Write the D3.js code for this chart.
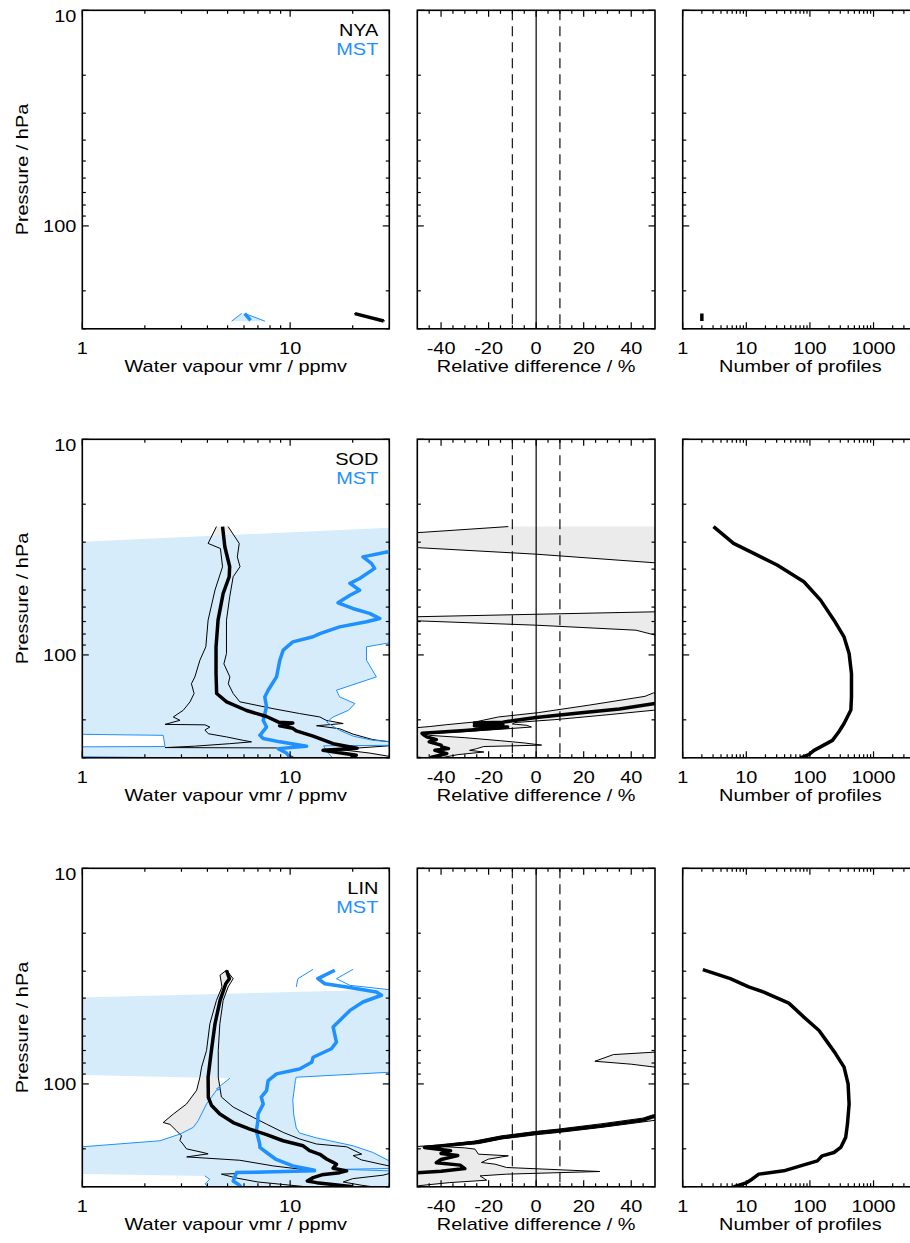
<!DOCTYPE html>
<html>
<head>
<meta charset="utf-8">
<script src="https://cdn.jsdelivr.net/npm/d3@7"></script>
<style>
body { margin: 0; background: #fff; }
svg text { font-family: "Liberation Sans", Arial, Helvetica, sans-serif; }
</style>
</head>
<body>
<div id="chart"></div>
<script>
// ---- data: each point is [pressure hPa, value] ----
var stations = ["NYA", "SOD", "LIN"];

// NYA
var nyaMean = [[255, 20.5], [276, 28.2]];
var nyaLo = [[255, 20.3], [276, 27.8]];
var nyaHi = [[255, 20.7], [276, 28.6]];
var nyaMstMean = [[255, 6.05], [274, 6.45]];
var nyaMstLo = [[254.7, 5.84], [276.5, 5.23]];
var nyaMstHi = [[254.7, 6.05], [276.5, 7.56]];
var nyaDiffMean = [[255, -70.5], [276, -77.1]];
var nyaDiffLo = [[255, -72], [276, -79]];
var nyaDiffHi = [[255, -69], [276, -75]];
var nyaCount = [[255, 2], [276, 2]];

// SOD
var sodMean = [[25.4,4.73],[31.5,4.85],[39,5.12],[43.4,5.09],[51.9,4.76],[69,4.5],[91.7,4.4],[122,4.4],[151,4.43],[165,4.95],[181,6.17],[193,7.7],[205,8.8],[207,10.3],[213,8.9],[219,10.3],[225,10.7],[238,12.9],[258,16.1],[269,20.1],[271,21],[277,14.4],[292,20.8],[300,19.6]];
var sodLo = [[25.4,4.42],[30.4,4.03],[32.1,4.62],[39,4.73],[50,4.35],[69,4.03],[91.7,3.93],[105.8,3.68],[126.5,3.48],[136,3.35],[151,3.45],[165,3.3],[180.6,3.06],[194,2.74],[201,2.95],[210,2.5],[211,3.89],[216,4.11],[223,3.89],[232,4.04],[240,4.94],[249,5.95],[253,6.52],[258,5.12],[265,3.47],[269,2.5],[270,8.6],[285,9.5],[300,10.5]];
var sodHi = [[25.4,5.03],[30.4,5.69],[35.1,5.57],[39,5.74],[43.4,5.32],[53.8,5.12],[69,4.94],[98.5,4.94],[110,4.8],[126.5,5.13],[136,5.04],[151,5.32],[165,5.73],[177.5,8.28],[187,11.1],[194,13.9],[201,14.9],[208,18],[213,13.4],[220,17.3],[233,20.1],[247,25],[252,29],[256,36],[262,33],[268,24],[274,17],[285,24],[300,33]];
var sodMstMean = [[33.2,29.6],[35.1,22.4],[37.6,24.6],[39.7,25.5],[44.2,21.6],[46.6,19.4],[50.1,21.6],[52.9,19.4],[57.3,17],[60.9,20],[64.2,24.1],[67.8,27],[70.2,23.3],[74.1,17.3],[79.6,13.9],[82.4,12.9],[87,10.3],[95,9.26],[105.8,8.92],[126.5,8.6],[145.8,7.84],[156.6,7.55],[174,7.7],[201,7.42],[216,7.7],[236,7.15],[244,7.42],[253,8.92],[265,12],[272,8.76],[285,9.6],[300,9.99]];
var sodMstLo = [[31.5,0.3],[230,0.3],[236,2.45],[266,2.5],[268,0.3],[293,0.3],[300,3.0]];
var sodMstHi = [[25.4,40],[87,40],[87.9,30],[91.7,23.3],[105.8,23.3],[126.5,26],[131,23.3],[145.8,16.7],[156.6,17.3],[168,20.5],[180.6,19.1],[194,16.1],[204.6,15],[212,15.8],[223.7,17.3],[238,20.1],[249,25],[252,30],[258,40],[262,40],[264,14.5],[280,15],[300,16]];
var sodDiffMean = [[25.4,150],[160,120],[168,50],[178,35],[186,18],[195,0],[202,-10],[205,-14],[207,-26],[210,-14],[213,-26],[216,-12],[224,-30],[231,-48],[236,-47],[240,-46],[247,-42],[253,-45],[262,-40],[267,-39.7],[272,-36.9],[277,-42.6],[287,-37.6],[298,-44],[300,-44]];
var sodDiffLo = [[25.4,-11.7],[27.1,-50],[29.5,-150],[31.8,-50],[34.1,0],[37.4,50],[40,120],[60,120],[63.1,50],[66.5,-50],[68,-150],[69.5,-50],[72.8,0],[76.8,42],[80.9,50],[85,120],[145,120],[150.1,49.3],[155.6,45.8],[171.2,21.9],[185.2,0.9],[194,-15.9],[204.6,-25.7],[210.6,-37.6],[215,-45],[222,-60],[280,-70],[300,-47]];
var sodDiffHi = [[25.4,150],[175,150],[180.6,49.3],[190.6,27.6],[199.6,7.9],[202.5,0],[205.9,-8.9],[209,-10],[212,-4],[216,-2],[220,-12],[226,-28],[232,-46],[236,-45],[242,-30],[250,-15],[256,-5],[262,2.3],[266,-22],[272,-25],[277,-28],[282,-22],[290,-33],[300,-40]];
var sodCount = [[25.4,3.05],[30.4,6.3],[33.8,13.1],[38.3,30.5],[45.8,80.4],[55.7,147],[69,239],[82.5,344],[98.5,413],[122,450],[156.6,450],[180,440],[208,344],[227,285],[249,226],[267,147],[277,116],[290,96],[300,71]];

// LIN
var linMean = [[29.7,4.94],[32.5,5.1],[34.3,4.9],[41,4.6],[52.6,4.35],[70,4.18],[93,4.03],[115.4,4.04],[126,4.19],[138,4.59],[151,5.32],[162,6.4],[172,7.7],[183.5,9.25],[193.6,11.55],[204,12.4],[212,13.9],[223,14.96],[231,16.1],[236,16.7],[246,16.1],[253,18.7],[258,17.3],[264,14.2],[272,12.9],[282,12.1],[287,13.4],[300,20.1]];
var linLo = [[29.7,4.94],[31.3,4.6],[35.5,4.7],[41,4.42],[52.6,4.11],[70,3.96],[83.6,3.75],[93.1,3.68],[107,3.55],[124,3.17],[138,2.74],[151,2.45],[154,2.64],[165,2.84],[174,3.0],[183,2.95],[190,3.05],[200,3.17],[208,3.81],[211,4.03],[218,3.18],[226,5.73],[240,8.28],[253,13.1],[262,4.67],[273,5.5],[285,7],[300,12]];
var linHi = [[29.7,4.94],[32.5,5.32],[35.5,5.03],[41,4.76],[52.6,4.59],[70,4.51],[93,4.51],[115,4.67],[128,5.32],[143,6.64],[153.6,7.7],[167.8,9.26],[180,11.1],[190,13.4],[195.7,18.7],[211.7,22.1],[215,20.1],[225,22],[235,27],[245,33],[250,35],[265,28],[275,20],[285,18],[295,22],[300,25]];
var linMstMean = [[29.7,16.4],[32.5,13.6],[34.3,14.7],[35.5,18.7],[37.5,26],[38.8,27.5],[41.7,22.4],[45.6,19.4],[54.5,16.1],[64,16.7],[68.7,15.8],[75.2,12.9],[79.3,12.7],[85.2,11.1],[89.8,8.6],[96.5,7.84],[107.4,7.7],[115,7.26],[124,7.42],[138,7.0],[148,7.0],[165,6.88],[190,7.14],[197,7.15],[208,7.7],[223,8.5],[240,10.3],[251.5,13.1],[253,13.1],[257.8,5.52],[272,5.4],[282,5.32],[296,5.73],[300,5.8]];
// values of 0.2 mark levels with no valid lower bound (fill edge only, no line)
var linMstLo = [[29.4,12.9],[32.5,10.9],[35.5,10.7],[41.3,0.2],[88,0.2],[94.1,5.13],[105.4,4.42],[106,4.6],[107,4.42],[123.9,3.96],[148,3.61],[159,3.42],[170.9,2.95],[183.5,2.36],[195.7,1.0],[200,0.5],[255,0.2],[267,3.89],[277,4.1],[290,3.9],[300,4.0]];
var linMstHi = [[29.4,20.1],[32.5,16.7],[34.9,19.4],[36.5,29.6],[37.5,50],[87,50],[88.3,30],[93.1,10.7],[96.5,10.6],[118.9,10.3],[138,10.4],[160,10.7],[169,11.1],[178,13.4],[183.5,15.5],[193.6,20.1],[207.9,25],[226,29.6],[232,40],[245,40],[249,18],[253,30],[257,50],[300,50]];
var linDiffMean = [[29.7,200],[130,200],[138,70],[141.9,49.3],[147,45],[156.3,27.6],[164.9,9.3],[169,0],[174,-8.9],[177.1,-14.5],[186.8,-25.7],[197,-47],[204,-36],[210,-40],[215,-33],[224,-40],[232,-42],[238,-32],[247,-30],[254,-40],[258,-50],[264,-60],[300,-65]];
var linDiffLo = [[29.7,150],[69,150],[71.2,50],[73.1,32.5],[78.5,24.7],[81,40],[83.6,50],[86,150],[133,150],[136,55],[138.9,49.3],[144,45],[153,27.6],[162,9.3],[166,0],[171,-8.9],[174,-14.5],[184,-25.7],[192,-40],[195,-50],[198,-70],[300,-70]];
var linDiffHi = [[29.7,200],[140,200],[145,55],[150,45],[159,27.6],[168,9.3],[172,0],[177,-8.9],[180,-14.5],[189,-24],[195,-40],[198,-30],[200.6,-25.7],[211.7,-24.3],[215.5,-11.7],[223.3,-20.1],[231.4,-23],[235.6,-17.3],[244.1,-12.4],[254.8,26.8],[262.1,-12.4],[267,-23.6],[279.6,-20.8],[286.8,-36.3],[297,-50],[300,-52]];
var linCount = [[29.5,2.07],[32.5,5.6],[35.5,10.9],[37.5,18.8],[42.2,46.6],[49,80.4],[56.5,139],[64,188],[72.5,254],[83.6,344],[100,398],[124,413],[153.6,389],[177,365],[197,305],[208,239],[215.5,156],[227.4,131],[239.8,71.2],[253,38.8],[262,15.7],[276.6,12.3],[286.8,10.2],[300,6.3]];

// ticks
var vmrMajor = [1, 10], vmrMinor = [2, 3, 4, 5, 6, 7, 8, 9, 20, 30];
var vmrLabels = ["1", "10"];
var presMajor = [10, 100], presMinor = [20, 30, 40, 50, 60, 70, 80, 90, 200, 300];
var presLabels = ["10", "100"];
var diffMajor = [-40, -20, 0, 20, 40];
var diffMinor = [-45, -35, -30, -25, -15, -10, -5, 5, 10, 15, 25, 30, 35, 45];
var diffLabels = ["-40", "-20", "0", "20", "40"];
var profMajor = [1, 10, 100, 1000];
var profMinor = [2, 3, 4, 5, 6, 7, 8, 9, 20, 30, 40, 50, 60, 70, 80, 90, 200, 300, 400, 500, 600, 700, 800, 900, 2000, 3000, 4000, 5000];
var profLabels = ["1", "10", "100", "1000"];

var rows = [
  {name: stations[0], mean: nyaMean, lo: nyaLo, hi: nyaHi, mMean: nyaMstMean, mLo: nyaMstLo, mHi: nyaMstHi, dMean: nyaDiffMean, dLo: nyaDiffLo, dHi: nyaDiffHi, count: nyaCount, fillFrom: 0},
  {name: stations[1], mean: sodMean, lo: sodLo, hi: sodHi, mMean: sodMstMean, mLo: sodMstLo, mHi: sodMstHi, dMean: sodDiffMean, dLo: sodDiffLo, dHi: sodDiffHi, count: sodCount, fillFrom: 0},
  {name: stations[2], mean: linMean, lo: linLo, hi: linHi, mMean: linMstMean, mLo: linMstLo, mHi: linMstHi, dMean: linDiffMean, dLo: linDiffLo, dHi: linDiffHi, count: linCount, fillFrom: 36.5}
];

// ---- layout ----
var width = 910, height = 1243;
var rowTops = [10.3, 439.3, 868.3];
var plotH = 318.5;
var cols = [[82.3, 389.3], [417.3, 655], [682.7, 918]];
var blue = "#1e90ff", lightBlue = "#d6ecfb", gray = "#ebebeb";
var fontSize = 17, stretch = 1.17;

var svg = d3.select("#chart").append("svg")
  .attr("width", width)
  .attr("height", height);

function label(g, x, y, txt, anchor, color, rot) {
  var t = "translate(" + x + "," + y + ")" + (rot ? " rotate(" + rot + ")" : "") + " scale(" + stretch + ",1)";
  return g.append("text")
    .attr("transform", t)
    .attr("text-anchor", anchor)
    .attr("fill", color || "#000")
    .style("font-size", fontSize + "px")
    .text(txt);
}

function band(line, hi, lo, from) {
  var pts = hi.filter(function(d) { return d[0] >= from; })
    .concat(lo.filter(function(d) { return d[0] >= from; }).reverse());
  return line(pts) + "Z";
}

function ticks(g, xs, ys, xMaj, xMin, yMaj, yMin) {
  var xa = xs.range()[0], xb = xs.range()[1], ya = ys.range()[0], yb = ys.range()[1];
  function tk(x1, y1, x2, y2) {
    g.append("line").attr("x1", x1).attr("y1", y1).attr("x2", x2).attr("y2", y2)
      .attr("stroke", "#000").attr("stroke-width", 1.2);
  }
  xMaj.forEach(function(v) { tk(xs(v), yb, xs(v), yb - 6.5); tk(xs(v), ya, xs(v), ya + 6.5); });
  xMin.forEach(function(v) { tk(xs(v), yb, xs(v), yb - 3.5); tk(xs(v), ya, xs(v), ya + 3.5); });
  yMaj.forEach(function(v) { tk(xa, ys(v), xa + 6.5, ys(v)); tk(xb, ys(v), xb - 6.5, ys(v)); });
  yMin.forEach(function(v) { tk(xa, ys(v), xa + 3.5, ys(v)); tk(xb, ys(v), xb - 3.5, ys(v)); });
}

function frame(g, xs, ys) {
  g.append("rect")
    .attr("x", xs.range()[0]).attr("y", ys.range()[0])
    .attr("width", xs.range()[1] - xs.range()[0])
    .attr("height", ys.range()[1] - ys.range()[0])
    .attr("fill", "none").attr("stroke", "#000").attr("stroke-width", 1.6);
}

function clip(id, xs, ys) {
  svg.append("clipPath").attr("id", id).append("rect")
    .attr("x", xs.range()[0]).attr("y", ys.range()[0])
    .attr("width", xs.range()[1] - xs.range()[0])
    .attr("height", ys.range()[1] - ys.range()[0]);
  return "url(#" + id + ")";
}

rows.forEach(function(r, i) {
  var top = rowTops[i], bottom = top + plotH;
  var y = d3.scaleLog().domain([10, 300]).range([top, bottom]);
  var x1 = d3.scaleLog().domain([1, 30]).range(cols[0]);
  var x2 = d3.scaleLinear().domain([-50, 50]).range(cols[1]);
  var x3 = d3.scaleLog().domain([1, 5000]).range(cols[2]);

  var l1 = d3.line().x(function(d) { return x1(d[1]); }).y(function(d) { return y(d[0]); });
  // thin bound lines skip the "no valid bound" levels
  var l1b = d3.line().defined(function(d) { return d[1] > 0.25; })
    .x(function(d) { return x1(d[1]); }).y(function(d) { return y(d[0]); });
  var l2 = d3.line().x(function(d) { return x2(d[1]); }).y(function(d) { return y(d[0]); });
  var l3 = d3.line().x(function(d) { return x3(d[1]); }).y(function(d) { return y(d[0]); });

  // panel 1: water vapour profiles
  var g1 = svg.append("g");
  var p1 = g1.append("g").attr("clip-path", clip("c" + i + "a", x1, y));
  p1.append("path").attr("d", band(l1, r.hi, r.lo, 0)).attr("fill", gray);
  p1.append("path").attr("d", band(l1, r.mHi, r.mLo, r.fillFrom)).attr("fill", lightBlue);
  [r.lo, r.hi].forEach(function(s) {
    p1.append("path").attr("d", l1(s)).attr("fill", "none").attr("stroke", "#000").attr("stroke-width", 1);
  });
  [r.mLo, r.mHi].forEach(function(s) {
    p1.append("path").attr("d", l1b(s)).attr("fill", "none").attr("stroke", blue).attr("stroke-width", 1);
  });
  p1.append("path").attr("d", l1(r.mMean)).attr("fill", "none").attr("stroke", blue)
    .attr("stroke-width", 3.5).attr("stroke-linejoin", "round");
  p1.append("path").attr("d", l1(r.mean)).attr("fill", "none").attr("stroke", "#000")
    .attr("stroke-width", 3.5).attr("stroke-linejoin", "round");
  ticks(g1, x1, y, vmrMajor, vmrMinor, presMajor, presMinor);
  frame(g1, x1, y);
  vmrMajor.forEach(function(v, k) { label(g1, x1(v), bottom + 25, vmrLabels[k], "middle"); });
  presMajor.forEach(function(v, k) {
    label(g1, cols[0][0] - 6, Math.max(y(v) + 6.5, top + 11.5), presLabels[k], "end");
  });
  label(g1, (cols[0][0] + cols[0][1]) / 2, bottom + 43.5, "Water vapour vmr / ppmv", "middle");
  label(g1, 28, top + plotH / 2, "Pressure / hPa", "middle", "#000", -90);
  label(g1, cols[0][1] - 11, top + 26, r.name, "end", "#000");
  label(g1, cols[0][1] - 11, top + 45, "MST", "end", blue);

  // panel 2: relative difference
  var g2 = svg.append("g");
  var p2 = g2.append("g").attr("clip-path", clip("c" + i + "b", x2, y));
  p2.append("path").attr("d", band(l2, r.dHi, r.dLo, 0)).attr("fill", gray);
  [-10, 10].forEach(function(v) {
    p2.append("line").attr("x1", x2(v)).attr("x2", x2(v)).attr("y1", top).attr("y2", bottom)
      .attr("stroke", "#222").attr("stroke-width", 1.3).attr("stroke-dasharray", "10,6");
  });
  p2.append("line").attr("x1", x2(0)).attr("x2", x2(0)).attr("y1", top).attr("y2", bottom)
    .attr("stroke", "#000").attr("stroke-width", 1.2);
  [r.dLo, r.dHi].forEach(function(s) {
    p2.append("path").attr("d", l2(s)).attr("fill", "none").attr("stroke", "#000").attr("stroke-width", 1);
  });
  p2.append("path").attr("d", l2(r.dMean)).attr("fill", "none").attr("stroke", "#000")
    .attr("stroke-width", 3.5).attr("stroke-linejoin", "round");
  ticks(g2, x2, y, diffMajor, diffMinor, presMajor, presMinor);
  frame(g2, x2, y);
  diffMajor.forEach(function(v, k) { label(g2, x2(v), bottom + 25, diffLabels[k], "middle"); });
  label(g2, (cols[1][0] + cols[1][1]) / 2, bottom + 43.5, "Relative difference / %", "middle");

  // panel 3: number of profiles
  var g3 = svg.append("g");
  var p3 = g3.append("g").attr("clip-path", clip("c" + i + "c", x3, y));
  p3.append("path").attr("d", l3(r.count)).attr("fill", "none").attr("stroke", "#000")
    .attr("stroke-width", 3.5).attr("stroke-linejoin", "round");
  ticks(g3, x3, y, profMajor, profMinor, presMajor, presMinor);
  frame(g3, x3, y);
  profMajor.forEach(function(v, k) { label(g3, x3(v), bottom + 25, profLabels[k], "middle"); });
  label(g3, (cols[2][0] + cols[2][1]) / 2, bottom + 43.5, "Number of profiles", "middle");
});
</script>
</body>
</html>
